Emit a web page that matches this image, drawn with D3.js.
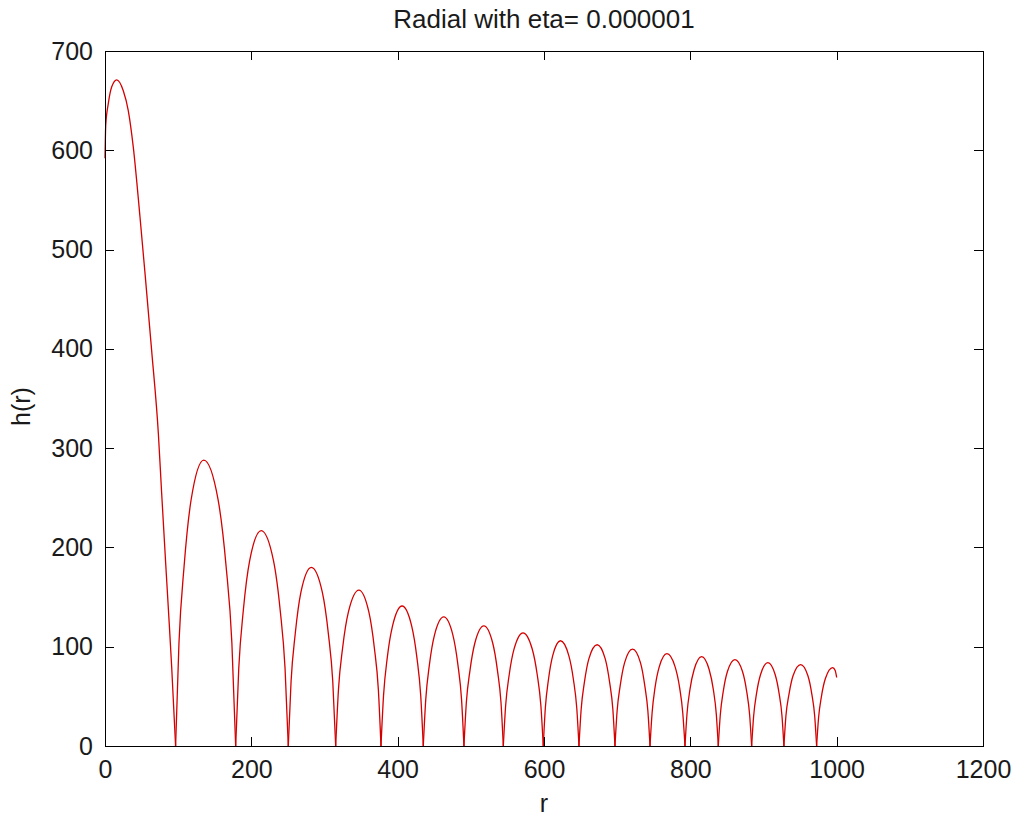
<!DOCTYPE html>
<html lang="en">

<head>
  <meta charset="UTF-8">
  <title>Radial</title>
  <style>
    body {
      margin: 0;
      background: #fff;
    }

    text {
      font-family: "Liberation Sans", Arial, sans-serif;
      fill: #1a1a1a;
    }

    .tick text {
      font-size: 25px;
    }

    .domain,
    .tick line {
      stroke: #000;
      shape-rendering: crispEdges;
    }
  </style>
</head>

<body>

  <div id="chart"></div>

  <script src="https://cdnjs.cloudflare.com/ajax/libs/d3/7.8.5/d3.min.js"></script>
  <script>
    // r values (one arch per row, zeros shared)
    const rValues = [
      0, 1, 4.5, 9.2, 16, 25, 31.8, 38.7, 47.8, 54.7, 63.8, 72.9, 77.4, 83.4, 87.9, 91.1, 96.5,
      101.1, 108.1, 117.7, 135, 154.6, 165.5, 173.4, 178.6,
      182.8, 189.1, 197.8, 213.5, 230.2, 239.4, 246.1, 250.5,
      254.3, 260, 267.8, 282, 297, 305.3, 311.3, 315.3,
      319.1, 324.8, 332.7, 347, 360.6, 368.1, 373.6, 377.2,
      380.7, 385.8, 393, 406, 419.1, 426.3, 431.5, 435,
      438.4, 443.4, 450.4, 463, 475.4, 482.3, 487.3, 490.6,
      493.9, 498.8, 505.6, 517.8, 529.8, 536.4, 541.2, 544.4,
      547.6, 552.5, 559.2, 571.3, 583.8, 590.7, 595.7, 599,
      601.8, 606.1, 611.9, 622.5, 633.9, 640.2, 644.8, 647.8,
      650.8, 655.2, 661.4, 672.6, 683.6, 689.7, 694.1, 697,
      699.9, 704.2, 710.2, 721, 731.8, 737.7, 742, 744.9,
      747.7, 751.8, 757.6, 768, 779.1, 785.3, 789.7, 792.7,
      795.4, 799.5, 805.2, 815.5, 825.7, 831.4, 835.5, 838.2,
      840.9, 845, 850.7, 861, 871.3, 877, 881.1, 883.8,
      886.5, 890.5, 896, 906, 915.9, 921.3, 925.3, 927.9,
      930.6, 934.8, 940.5, 950.8, 960.6, 966.1, 970, 972.6,
      975.2, 979.2, 984.6, 994.5, 998, 1000
    ]

    const hValues = [
      592, 625, 647, 664, 671, 660, 640, 603, 533, 476, 398, 315, 255, 178, 122, 80, 0,
      104, 181, 248, 288, 248, 181, 104, 0,
      78, 137, 187, 217, 187, 137, 78, 0,
      65, 113, 155, 180, 155, 113, 65, 0,
      57, 99, 135, 157, 135, 99, 57, 0,
      51, 89, 121, 141, 121, 89, 51, 0,
      47, 82, 112, 130, 112, 82, 47, 0,
      44, 76, 104, 121, 104, 76, 44, 0,
      41, 72, 98, 114, 98, 72, 41, 0,
      38, 67, 91, 106, 91, 67, 38, 0,
      37, 64, 88, 102, 88, 64, 37, 0,
      35, 61, 84, 97.5, 84, 61, 35, 0,
      33, 59, 80, 93, 80, 59, 33, 0,
      32, 57, 77, 90, 77, 57, 32, 0,
      31, 55, 75, 87, 75, 55, 31, 0,
      30, 53, 72, 84, 72, 53, 30, 0,
      30, 52, 71, 82, 71, 52, 30, 0,
      28, 50, 68, 79, 76, 69
    ]

    const xTicks = [0, 200, 400, 600, 800, 1000, 1200]
    const yTicks = [0, 100, 200, 300, 400, 500, 600, 700]

    const margin = { top: 51, right: 33, bottom: 72, left: 105 }
    const width = 1016 - margin.left - margin.right
    const height = 818 - margin.top - margin.bottom

    const xScale = d3.scaleLinear()
      .domain([0, 1200])
      .range([0, width])

    const yScale = d3.scaleLinear()
      .domain([0, 700])
      .range([height, 0])

    const svg = d3.select('#chart')
      .append('svg')
      .attr('width', 1016)
      .attr('height', 818)

    const g = svg.append('g')
      .attr('transform', `translate(${margin.left}, ${margin.top})`)

    // split the series at its zeros so every arch keeps a sharp cusp
    const arches = []
    let current = []
    rValues.forEach((r, i) => {
      current.push([r, hValues[i]])
      if (hValues[i] === 0 && current.length > 1) {
        arches.push(current)
        current = [[r, 0]]
      }
    })
    if (current.length > 1) arches.push(current)

    const line = d3.line()
      .x(d => xScale(d[0]))
      .y(d => yScale(d[1]))
      .curve(d3.curveMonotoneX)

    g.selectAll('path.arch')
      .data(arches)
      .enter()
      .append('path')
      .attr('class', 'arch')
      .attr('d', line)
      .attr('fill', 'none')
      .attr('stroke', '#d40000')
      .attr('stroke-width', 1.3)

    const plain = d3.format('d')

    // box with inward ticks on all four sides
    g.append('g')
      .attr('transform', `translate(0, ${height})`)
      .call(d3.axisBottom(xScale).tickValues(xTicks).tickFormat(plain)
        .tickSize(-9).tickSizeOuter(0).tickPadding(14))

    g.append('g')
      .call(d3.axisTop(xScale).tickValues(xTicks).tickSize(-9).tickSizeOuter(0).tickFormat(() => ''))

    g.append('g')
      .call(d3.axisLeft(yScale).tickValues(yTicks).tickFormat(plain)
        .tickSize(-9).tickSizeOuter(0).tickPadding(12))

    g.append('g')
      .attr('transform', `translate(${width}, 0)`)
      .call(d3.axisRight(yScale).tickValues(yTicks).tickSize(-9).tickSizeOuter(0).tickFormat(() => ''))

    svg.append('text')
      .attr('x', margin.left + width / 2)
      .attr('y', 28)
      .attr('text-anchor', 'middle')
      .style('font-size', '26px')
      .text('Radial with eta= 0.000001')

    svg.append('text')
      .attr('x', margin.left + width / 2)
      .attr('y', 812)
      .attr('text-anchor', 'middle')
      .style('font-size', '25px')
      .text('r')

    svg.append('text')
      .attr('transform', `translate(30, ${margin.top + height / 2 + 8}) rotate(-90)`)
      .attr('text-anchor', 'middle')
      .style('font-size', '25px')
      .text('h(r)')
  </script>
</body>

</html>
